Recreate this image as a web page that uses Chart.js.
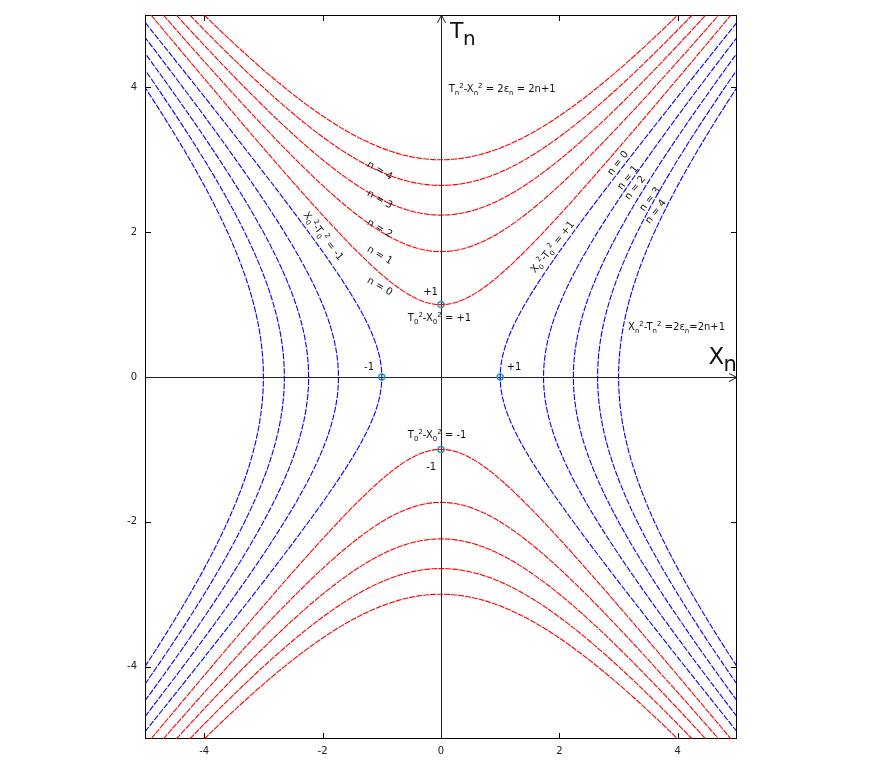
<!DOCTYPE html>
<html>
<head>
<meta charset="utf-8">
<script src="https://cdn.jsdelivr.net/npm/chart.js@4.4.1/dist/chart.umd.min.js"></script>
<style>
  html, body { margin: 0; padding: 0; background: #fff; }
  #chart { display: block; }
</style>
</head>
<body>
<canvas id="chart" width="872" height="763"></canvas>
<script>
// energy levels 2n+1 for n = 0..4
var levels = [1, 3, 5, 7, 9];
var levelNames = ["n = 0", "n = 1", "n = 2", "n = 3", "n = 4"];
var xTicks = [-4, -2, 0, 2, 4];
var yTicks = [-4, -2, 0, 2, 4];
var xRange = [-5, 5];
var yRange = [-5, 5];
// points where the n = 0 curves cross the axes
var crossX = [0, 0, 1, -1];
var crossY = [1, -1, 0, 0];

var STEPS = 160;

// hyperbola branch, sampled along the curve up to the plot edge
function branch(c, kind) {
    var a = Math.sqrt(c);
    var lim = kind == "top" || kind == "bottom" ? yRange[1] : xRange[1];
    var umax = Math.acosh(lim / a);
    var pts = [];
    for (var i = 0; i <= STEPS; i++) {
        var u = -umax + 2 * umax * i / STEPS;
        var s = a * Math.sinh(u), ch = a * Math.cosh(u);
        if (kind == "top") pts.push({ x: s, y: ch });
        if (kind == "bottom") pts.push({ x: s, y: -ch });
        if (kind == "right") pts.push({ x: ch, y: s });
        if (kind == "left") pts.push({ x: -ch, y: s });
    }
    return pts;
}

var datasets = [];
levels.forEach(function (c) {
    ["top", "bottom"].forEach(function (k) {
        datasets.push({
            data: branch(c, k), showLine: true, pointRadius: 0,
            borderColor: "#ff0000", borderWidth: 1.1, borderDash: [6, 1]
        });
    });
    ["left", "right"].forEach(function (k) {
        datasets.push({
            data: branch(c, k), showLine: true, pointRadius: 0,
            borderColor: "#0000ff", borderWidth: 1.1, borderDash: [6, 1.5]
        });
    });
});
datasets.push({
    data: crossX.map(function (x, i) { return { x: x, y: crossY[i] }; }),
    showLine: false, pointRadius: 3, pointBorderWidth: 1.5,
    pointBorderColor: "#2f97c1", pointBackgroundColor: "rgba(0,0,0,0)"
});

var FONT = "DejaVu Sans, sans-serif";

// draw text made of [string, "n"|"sub"|"sup"] parts
function richText(ctx, parts, x, y, size, align, angle) {
    var small = Math.round(size * 0.72);
    var w = 0;
    parts.forEach(function (p) {
        ctx.font = (p[1] == "n" ? size : small) + "px " + FONT;
        w += ctx.measureText(p[0]).width;
    });
    ctx.save();
    ctx.translate(x, y);
    if (angle) ctx.rotate(angle * Math.PI / 180);
    var cx = align == "center" ? -w / 2 : 0;
    var dy = align == "center" ? size * 0.35 : 0;
    ctx.textAlign = "left";
    ctx.textBaseline = "alphabetic";
    parts.forEach(function (p) {
        var sz = p[1] == "n" ? size : small;
        ctx.font = sz + "px " + FONT;
        var off = p[1] == "sub" ? size * 0.3 : (p[1] == "sup" ? -size * 0.42 : 0);
        ctx.fillText(p[0], cx, dy + off);
        cx += ctx.measureText(p[0]).width;
    });
    ctx.restore();
}

var framePlugin = {
    id: "frame",
    beforeDatasetsDraw: function (chart) {
        var ctx = chart.ctx, a = chart.chartArea;
        var sx = chart.scales.x, sy = chart.scales.y;
        ctx.save();
        ctx.strokeStyle = "#000";
        ctx.lineWidth = 1;
        ctx.strokeRect(a.left + 0.5, a.top + 0.5, a.right - a.left - 1, a.bottom - a.top - 1);
        ctx.beginPath();
        xTicks.forEach(function (v) {
            var px = Math.round(sx.getPixelForValue(v)) + 0.5;
            ctx.moveTo(px, a.bottom); ctx.lineTo(px, a.bottom - 6);
            ctx.moveTo(px, a.top); ctx.lineTo(px, a.top + 6);
        });
        yTicks.forEach(function (v) {
            var py = Math.round(sy.getPixelForValue(v)) + 0.5;
            ctx.moveTo(a.left, py); ctx.lineTo(a.left + 6, py);
            ctx.moveTo(a.right, py); ctx.lineTo(a.right - 6, py);
        });
        ctx.stroke();
        // axes through the origin, with arrows
        var ox = Math.round(sx.getPixelForValue(0)) + 0.5;
        var oy = Math.round(sy.getPixelForValue(0)) + 0.5;
        ctx.strokeStyle = "#222";
        ctx.beginPath();
        ctx.moveTo(a.left, oy); ctx.lineTo(a.right, oy);
        ctx.moveTo(a.right - 8, oy - 4); ctx.lineTo(a.right, oy); ctx.lineTo(a.right - 8, oy + 4);
        ctx.moveTo(ox, a.bottom); ctx.lineTo(ox, a.top);
        ctx.moveTo(ox - 4, a.top + 8); ctx.lineTo(ox, a.top); ctx.lineTo(ox + 4, a.top + 8);
        ctx.stroke();
        ctx.restore();
    },
    afterDraw: function (chart) {
        var ctx = chart.ctx;
        var sx = chart.scales.x, sy = chart.scales.y;
        function X(v) { return sx.getPixelForValue(v); }
        function Y(v) { return sy.getPixelForValue(v); }
        ctx.save();
        ctx.fillStyle = "#111";

        richText(ctx, [["T", "n"]], X(0.15), Y(4.68), 22, "left");
        ctx.font = "20px " + FONT;
        ctx.fillText("n", X(0.15) + 13, Y(4.68) + 7);
        richText(ctx, [["X", "n"]], X(4.52), Y(0.18), 23, "left");
        ctx.font = "21px " + FONT;
        ctx.fillText("n", X(4.52) + 15, Y(0.18) + 7);

        richText(ctx, [["T", "n"], ["n", "sub"], ["2", "sup"], ["-X", "n"], ["n", "sub"], ["2", "sup"],
            [" = 2\u03b5", "n"], ["n", "sub"], [" = 2n+1", "n"]], X(0.13), Y(3.94), 10, "left");
        richText(ctx, [["X", "n"], ["n", "sub"], ["2", "sup"], ["-T", "n"], ["n", "sub"], ["2", "sup"],
            [" =2\u03b5", "n"], ["n", "sub"], ["=2n+1", "n"]], X(3.16), Y(0.65), 10, "left");

        richText(ctx, [["T", "n"], ["0", "sub"], ["2", "sup"], ["-X", "n"], ["0", "sub"], ["2", "sup"],
            [" = +1", "n"]], X(-0.56), Y(0.77), 10, "left");
        richText(ctx, [["T", "n"], ["0", "sub"], ["2", "sup"], ["-X", "n"], ["0", "sub"], ["2", "sup"],
            [" = -1", "n"]], X(-0.56), Y(-0.84), 10, "left");
        richText(ctx, [["+1", "n"]], X(-0.30), Y(1.13), 10, "left");
        richText(ctx, [["-1", "n"]], X(-0.25), Y(-1.28), 10, "left");
        richText(ctx, [["-1", "n"]], X(-1.30), Y(0.10), 10, "left");
        richText(ctx, [["+1", "n"]], X(1.11), Y(0.10), 10, "left");

        // n labels along the curves
        var leftPos = [[-1.03, 1.26], [-1.03, 1.69], [-1.03, 2.06], [-1.03, 2.46], [-1.03, 2.86]];
        var rightPos = [[2.98, 2.96], [3.15, 2.76], [3.27, 2.62], [3.52, 2.46], [3.62, 2.29]];
        levelNames.forEach(function (t, i) {
            richText(ctx, [[t, "n"]], X(leftPos[i][0]), Y(leftPos[i][1]), 10, "center", 30);
            richText(ctx, [[t, "n"]], X(rightPos[i][0]), Y(rightPos[i][1]), 10, "center", -52);
        });
        richText(ctx, [["X", "n"], ["0", "sub"], ["2", "sup"], ["-T", "n"], ["0", "sub"], ["2", "sup"],
            [" = -1", "n"]], X(-1.98), Y(1.95), 10, "center", 52);
        richText(ctx, [["X", "n"], ["0", "sub"], ["2", "sup"], ["-T", "n"], ["0", "sub"], ["2", "sup"],
            [" = +1", "n"]], X(1.877), Y(1.80), 10, "center", -51);
        ctx.restore();
    }
};

var ctx = document.getElementById("chart").getContext("2d");
var chart = new Chart(ctx, {
    type: "scatter",
    data: { datasets: datasets },
    options: {
        responsive: false,
        animation: false,
        devicePixelRatio: 1,
        layout: { padding: { left: 120, right: 135, top: 15, bottom: 4 } },
        plugins: { legend: { display: false }, tooltip: { enabled: false } },
        scales: {
            x: {
                type: "linear", min: xRange[0], max: xRange[1],
                afterBuildTicks: function (s) { s.ticks = xTicks.map(function (v) { return { value: v }; }); },
                afterFit: function (s) { s.height = 20; },
                ticks: { font: { family: FONT, size: 10 }, color: "#222", padding: 6, maxRotation: 0 },
                grid: { display: false, drawTicks: false },
                border: { display: false }
            },
            y: {
                type: "linear", min: yRange[0], max: yRange[1],
                afterBuildTicks: function (s) { s.ticks = yTicks.map(function (v) { return { value: v }; }); },
                afterFit: function (s) { s.width = 25; },
                ticks: { font: { family: FONT, size: 10 }, color: "#222", padding: 8 },
                grid: { display: false, drawTicks: false },
                border: { display: false }
            }
        }
    },
    plugins: [framePlugin]
});
</script>
</body>
</html>
